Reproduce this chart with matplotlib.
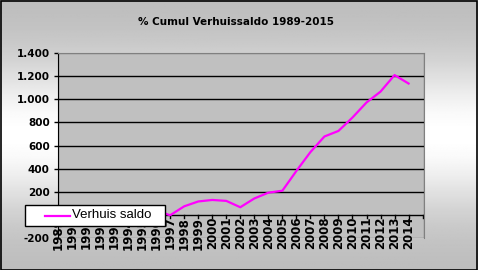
import matplotlib
matplotlib.use('Agg')
import matplotlib.pyplot as plt
import numpy as np
from matplotlib.patches import Rectangle
from matplotlib.lines import Line2D

# data (cumulative migration balance)
years = [str(y) for y in range(1989, 2015)]
saldo = [0, 10, 20, 30, 40, 50, 50, 35, -3, 74, 116, 129, 121, 66,
         142, 192, 209, 380, 543, 678, 726, 842, 972, 1066, 1209, 1136]
yticks = [-200, 0, 200, 400, 600, 800, 1000, 1200, 1400]
ylabels = ['-200', '', '200', '400', '600', '800', '1.000', '1.200', '1.400']

W, H = 478, 270
fig = plt.figure(figsize=(W / 100, H / 100), dpi=100)

# gradient background of the chart area
bg = fig.add_axes([0, 0, 1, 1], zorder=-10)
t = np.linspace(0, 1, 256)
shade = 0.73 + 0.27 * np.exp(-((t - 0.5) / 0.28) ** 2)
bg.imshow(np.tile(shade[:, None], (1, 2)), cmap='gray', vmin=0, vmax=1,
          aspect='auto', extent=[0, 1, 0, 1])
bg.set_xlim(0, 1)
bg.set_ylim(0, 1)
bg.axis('off')

left, right, top, bottom = 58, 424, 53, 238
ax = fig.add_axes([left / W, 1 - bottom / H, (right - left) / W, (bottom - top) / H])
ax.set_facecolor('#C0C0C0')

x = np.arange(len(saldo))
ax.plot(x, saldo, color='#FF00FF', lw=1.6, zorder=3)

ax.set_xlim(0, 26.1)
ax.set_ylim(-200, 1400)
for v in yticks[2:-1]:
    ax.axhline(v, color='black', lw=1, zorder=1)

for s in ['top', 'right']:
    ax.spines[s].set_color('#808080')
ax.spines['bottom'].set_visible(False)
ax.spines['left'].set_color('black')
ax.add_patch(Rectangle((0, 0), 1, 1, transform=ax.transAxes, fill=False,
                       ec='#808080', lw=1, zorder=0.5))
ax.axhline(0, color='black', lw=1, zorder=2)

ax.set_yticks(yticks)
ax.set_yticklabels(ylabels, fontsize=7.5, fontweight='bold', family='DejaVu Sans')
ax.tick_params(axis='y', length=3, width=1, pad=3)

# category ticks sitting on the zero line
ax.set_xticks([])
for i in range(27):
    ax.plot([i, i], [0, -26], color='black', lw=1, clip_on=False, zorder=2)
for i, lab in enumerate(years):
    ax.text(i, -16, lab, rotation=90, ha='center', va='top', fontsize=8.5,
            fontweight='bold', family='DejaVu Sans', clip_on=False, zorder=4)

fig.text(236 / W, 1 - 22 / H, '% Cumul Verhuissaldo 1989-2015', ha='center',
         va='center', fontsize=7.5, fontweight='bold', family='DejaVu Sans')

# legend box drawn by hand to match the placement
fig.patches.append(Rectangle((25 / W, 1 - 226 / H), 140 / W, 21 / H,
                             transform=fig.transFigure, fc='white', ec='black',
                             lw=1, zorder=20))
fig.lines.append(Line2D([45 / W, 70 / W], [1 - 215.5 / H] * 2,
                        transform=fig.transFigure, color='#FF00FF', lw=1.6,
                        zorder=21))
fig.text(72 / W, 1 - 215.5 / H, 'Verhuis saldo', ha='left', va='center',
         fontsize=9.5, family='Liberation Sans', zorder=22)

fig.patches.append(Rectangle((0.5 / W, 0.5 / H), 1 - 1.5 / W, 1 - 1.5 / H,
                             transform=fig.transFigure, fill=False, ec='black',
                             lw=1.2, zorder=30))

fig.savefig('out.png', dpi=100)
